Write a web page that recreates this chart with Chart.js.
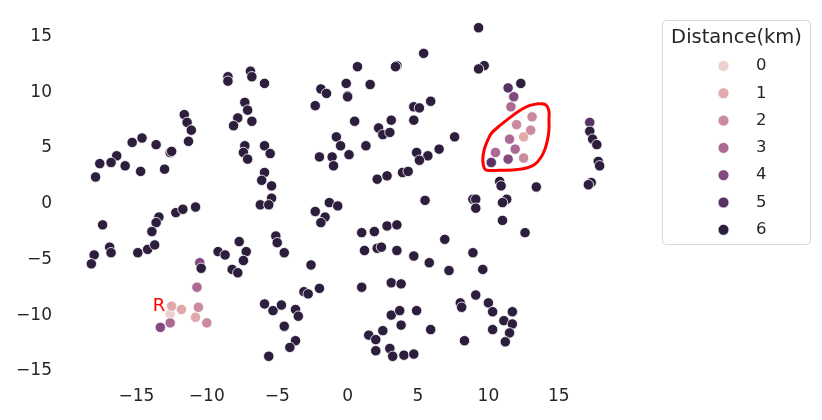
<!DOCTYPE html>
<html>
<head>
<meta charset="utf-8">
<script src="https://cdn.jsdelivr.net/npm/chart.js@4.4.1/dist/chart.umd.min.js"></script>
<style>
  html, body { margin: 0; padding: 0; background: #ffffff; }
</style>
</head>
<body>
<canvas id="scatterChart" width="822" height="420"></canvas>
<script>
// hue levels (km) and their colours
const distanceLevels = [0, 1, 2, 3, 4, 5, 6];
const levelColors = ['#ebd0cc', '#e0aaac', '#ca8aa0', '#ac6992', '#844a80', '#573265', '#2d1e3e'];

// points per distance level, [x, y]
const dist0 = [[-12.6, -9.9]];
const dist1 = [[12.5, 6.0], [-12.5, -9.2], [-11.8, -9.5], [-10.8, -10.2]];
const dist2 = [[13.1, 7.8], [12.0, 7.1], [13.0, 6.6], [12.5, 4.1], [-10.6, -9.3], [-10.0, -10.7]];
const dist3 = [[11.6, 8.7], [11.5, 5.8], [11.9, 4.9], [10.5, 4.6], [-10.7, -7.5], [-12.6, -10.7]];
const dist4 = [[11.8, 9.6], [11.4, 4.0], [-10.5, -5.3], [-13.3, -11.1]];
const dist5 = [[11.4, 10.4], [17.2, 7.3], [10.2, 3.7]];
const dist6 = [
    [-8.5, 11.4], [-8.5, 11.0], [-6.9, 11.9], [-6.8, 11.4], [-7.3, 9.1], [-7.1, 8.4], [-7.8, 7.7], [-8.1, 7.0],
    [-6.8, 7.4], [-11.6, 8.0], [-11.4, 7.3], [-11.1, 6.6], [-11.3, 5.6], [-15.3, 5.5], [-14.6, 5.9], [-13.6, 5.3],
    [-12.6, 4.6], [-12.5, 4.7], [-7.3, 5.2], [-7.4, 4.6], [-7.1, 4.0], [-5.9, 10.8], [0.7, 12.3], [3.5, 12.4],
    [3.4, 12.3], [5.4, 13.5], [-1.9, 10.3], [-1.5, 9.9], [-0.1, 10.8], [0.0, 9.7], [0.0, 9.6], [1.6, 10.7],
    [-2.3, 8.8], [4.7, 8.7], [5.1, 8.6], [5.9, 9.2], [0.5, 7.4], [3.1, 7.5], [2.2, 6.8], [2.5, 6.2],
    [3.0, 6.4], [4.7, 7.5], [-0.8, 6.0], [-0.5, 5.2], [1.3, 5.2], [-5.9, 5.2], [9.3, 15.8], [9.7, 12.4],
    [9.3, 12.1], [7.6, 6.0], [6.5, 4.9], [12.3, 10.8], [17.2, 6.5], [17.4, 5.8], [17.7, 5.3], [10.8, 2.0],
    [10.9, 1.6], [13.4, 1.5], [8.9, 0.4], [9.1, 0.4], [9.1, -0.4], [11.3, 0.4], [11.0, 0.1], [11.0, -1.5],
    [12.6, -2.6], [6.9, -3.2], [8.9, -4.4], [5.8, -5.3], [7.2, -6.0], [9.6, -5.9], [17.8, 3.8], [17.9, 3.4],
    [17.3, 1.9], [17.1, 1.7], [-5.5, 4.5], [-2.0, 4.2], [-1.1, 4.2], [-1.0, 3.4], [0.1, 4.4], [4.9, 4.6],
    [5.7, 4.3], [5.1, 3.9], [-5.9, 2.8], [-6.1, 2.1], [-5.4, 1.6], [-5.4, 0.5], [-6.2, -0.1], [-5.6, -0.1],
    [2.1, 2.2], [2.8, 2.5], [3.9, 2.8], [4.3, 2.9], [5.5, 0.3], [-2.3, -0.7], [-1.3, 0.1], [-0.7, -0.2],
    [-1.6, -1.2], [-1.9, -1.7], [1.0, -2.6], [1.9, -2.5], [2.8, -2.0], [3.5, -1.9], [-5.1, -2.9], [-5.0, -3.5],
    [-4.5, -4.4], [1.2, -4.2], [2.1, -4.0], [2.4, -3.9], [3.5, -4.2], [4.7, -4.7], [-2.6, -5.5], [-16.4, 4.3],
    [-17.6, 3.6], [-16.8, 3.7], [-15.8, 3.4], [-14.7, 2.9], [-17.9, 2.4], [-13.0, 3.1], [-17.4, -1.9], [-13.4, -1.2],
    [-13.6, -1.7], [-13.9, -2.5], [-12.2, -0.8], [-11.7, -0.5], [-10.8, -0.3], [-16.9, -3.9], [-16.8, -4.4], [-18.0, -4.6],
    [-18.2, -5.4], [-14.9, -4.4], [-14.2, -4.1], [-13.7, -3.7], [-10.4, -5.8], [-9.2, -4.3], [-8.7, -4.6], [-7.7, -3.4],
    [-7.2, -4.3], [-7.4, -5.1], [-8.2, -5.9], [-7.8, -6.2], [-5.9, -9.0], [-5.3, -9.6], [-4.7, -9.1], [-3.7, -9.5],
    [-3.5, -10.1], [-4.5, -11.0], [-3.1, -7.9], [-2.8, -8.1], [-2.0, -7.6], [-3.7, -12.3], [-4.1, -12.9], [-5.6, -13.7],
    [1.0, -7.5], [3.1, -7.1], [3.8, -7.2], [3.1, -10.0], [3.7, -9.6], [4.9, -9.6], [3.8, -10.9], [5.9, -11.3],
    [1.5, -11.8], [2.5, -11.4], [2.0, -12.2], [2.0, -13.2], [3.0, -13.0], [3.2, -13.7], [4.0, -13.6], [4.7, -13.5],
    [9.1, -8.2], [8.0, -8.9], [8.1, -9.3], [10.0, -8.9], [10.3, -9.7], [11.7, -9.7], [11.1, -10.5], [11.7, -10.8],
    [10.3, -11.3], [11.5, -11.6], [11.2, -12.4], [8.3, -12.3]
];

// hand drawn red outline around the near cluster (data units)
const outlineX = [13.6, 14.1, 14.3, 14.3, 14.3, 14.2, 14.0, 13.7, 13.3, 12.7, 11.9, 10.8, 9.9, 9.7, 9.6, 9.7, 9.9, 10.2, 10.8, 11.5, 12.2, 12.9, 13.6];
const outlineY = [9.0, 8.85, 8.3, 7.55, 6.65, 5.75, 4.85, 4.1, 3.55, 3.2, 3.05, 3.0, 3.0, 3.2, 3.95, 4.85, 5.55, 6.3, 7.0, 7.7, 8.35, 8.8, 9.0];

// the "R" marker text
const refLabel = { text: 'R', x: -13.4, y: -9.2 };

const xTicks = [-15, -10, -5, 0, 5, 10, 15];
const yTicks = [-15, -10, -5, 0, 5, 10, 15];

const pointsByLevel = [dist0, dist1, dist2, dist3, dist4, dist5, dist6];
const FONT = "'DejaVu Sans', sans-serif";
const TEXT = '#262626';

const fmt = v => (v < 0 ? '\u2212' + Math.abs(v) : String(v));

// darkest first so the lighter ones sit on top
const datasets = [];
for (let i = distanceLevels.length - 1; i >= 0; i--) {
    datasets.push({
        label: String(distanceLevels[i]),
        data: pointsByLevel[i].map(p => ({ x: p[0], y: p[1] })),
        backgroundColor: levelColors[i],
        borderColor: '#ffffff',
        borderWidth: 0.8,
        pointRadius: 5.2
    });
}
datasets.push({
    label: 'outline',
    data: outlineX.map((x, i) => ({ x: x, y: outlineY[i] })),
    showLine: true,
    borderColor: '#ff0000',
    borderWidth: 3,
    pointRadius: 0,
    tension: 0.35,
    fill: false
});

const annotations = {
    id: 'annotations',
    afterDatasetsDraw(chart) {
        const ctx = chart.ctx;
        const xs = chart.scales.x, ys = chart.scales.y;
        ctx.save();
        ctx.fillStyle = '#ff0000';
        ctx.font = '18px ' + FONT;
        ctx.textAlign = 'center';
        ctx.textBaseline = 'middle';
        ctx.fillText(refLabel.text, xs.getPixelForValue(refLabel.x), ys.getPixelForValue(refLabel.y));
        ctx.restore();
    },
    afterDraw(chart) {
        // legend box on the right
        const ctx = chart.ctx;
        const left = 662.5, top = 20.5, w = 148, h = 224;
        ctx.save();
        ctx.beginPath();
        ctx.roundRect(left, top, w, h, 4);
        ctx.fillStyle = '#ffffff';
        ctx.fill();
        ctx.strokeStyle = '#d9d9d9';
        ctx.lineWidth = 1;
        ctx.stroke();

        ctx.fillStyle = TEXT;
        ctx.font = '19.5px ' + FONT;
        ctx.textAlign = 'center';
        ctx.textBaseline = 'middle';
        ctx.fillText('Distance(km)', left + w / 2, 38);

        ctx.font = '16.5px ' + FONT;
        ctx.textAlign = 'left';
        distanceLevels.forEach((lvl, i) => {
            const y = 66 + i * 27.3;
            ctx.beginPath();
            ctx.arc(723.5, y, 5.5, 0, Math.PI * 2);
            ctx.fillStyle = levelColors[i];
            ctx.fill();
            ctx.strokeStyle = '#ffffff';
            ctx.lineWidth = 0.8;
            ctx.stroke();
            ctx.fillStyle = TEXT;
            ctx.fillText(String(lvl), 756, y);
        });
        ctx.restore();
    }
};

new Chart(document.getElementById('scatterChart').getContext('2d'), {
    type: 'scatter',
    data: { datasets: datasets },
    options: {
        responsive: false,
        animation: false,
        layout: { padding: { left: 0, top: 11, right: 197, bottom: 0 } },
        plugins: {
            legend: { display: false },
            tooltip: { enabled: false }
        },
        scales: {
            x: {
                min: -20,
                max: 19.7,
                grid: { display: false, drawTicks: false },
                border: { display: false },
                afterBuildTicks: s => { s.ticks = xTicks.map(v => ({ value: v })); },
                afterFit: s => { s.height = 47; s.paddingLeft = 0; s.paddingRight = 0; },
                ticks: {
                    color: TEXT,
                    padding: 13,
                    font: { family: FONT, size: 17 },
                    callback: v => fmt(v)
                }
            },
            y: {
                min: -15.2,
                max: 17.3,
                grid: { display: false, drawTicks: false },
                border: { display: false },
                afterBuildTicks: s => { s.ticks = yTicks.map(v => ({ value: v })); },
                afterFit: s => { s.width = 66; s.paddingTop = 0; s.paddingBottom = 0; },
                ticks: {
                    color: TEXT,
                    padding: 14,
                    font: { family: FONT, size: 17 },
                    callback: v => fmt(v)
                }
            }
        }
    },
    plugins: [annotations]
});
</script>
</body>
</html>
